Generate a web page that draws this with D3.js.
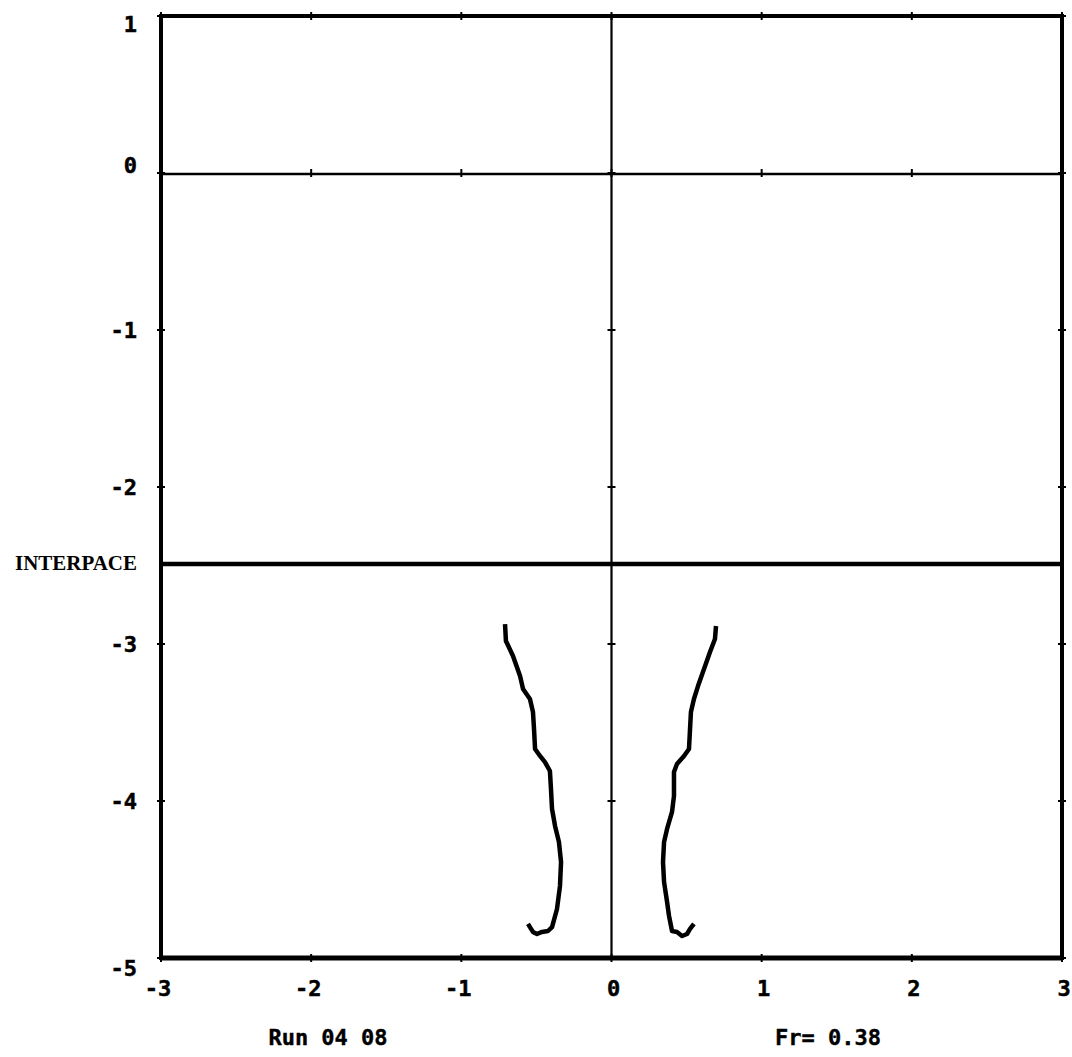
<!DOCTYPE html>
<html><head><meta charset="utf-8">
<script src="https://cdn.jsdelivr.net/npm/d3@7"></script>
<style>html,body{margin:0;padding:0;background:#fff;}</style>
</head><body>
<svg id="c" width="1072" height="1057"></svg>
<script>
const xTicks = [-3, -2, -1, 0, 1, 2, 3];
const yTicks = [1, 0, -1, -2, -3, -4, -5];
const interfaceY = -2.49;
const interfaceLabel = "INTERPACE";
const runLabel = "Run 04 08";
const frLabel = "Fr= 0.38";

const leftX = [-0.709,-0.703,-0.656,-0.609,-0.589,-0.543,-0.523,-0.516,-0.509,-0.476,-0.443,-0.410,-0.403,-0.396,-0.376,-0.350,-0.336,-0.343,-0.363,-0.396,-0.423,-0.463,-0.496,-0.523,-0.543,-0.556];
const leftY = [-2.873,-2.981,-3.076,-3.204,-3.287,-3.350,-3.433,-3.541,-3.669,-3.713,-3.752,-3.809,-3.924,-4.051,-4.159,-4.261,-4.389,-4.541,-4.688,-4.803,-4.828,-4.834,-4.847,-4.834,-4.803,-4.783];
const rightX = [0.696,0.689,0.656,0.616,0.576,0.549,0.529,0.523,0.516,0.483,0.436,0.416,0.416,0.403,0.370,0.350,0.343,0.350,0.370,0.383,0.403,0.436,0.470,0.503,0.523,0.549];
const rightY = [-2.885,-2.968,-3.051,-3.159,-3.268,-3.350,-3.433,-3.541,-3.669,-3.713,-3.764,-3.815,-3.968,-4.070,-4.178,-4.261,-4.389,-4.516,-4.643,-4.732,-4.828,-4.834,-4.860,-4.847,-4.815,-4.783];

const svg = d3.select("#c");
const L = 161, R = 1062, T = 16, B = 958;
const x = d3.scaleLinear().domain([-3, 3]).range([L, R]);
const y = d3.scaleLinear().domain([-5, 1]).range([B, T]);
const mono = "'DejaVu Sans Mono', monospace";

// zero lines
svg.append("line").attr("x1", x(-3)).attr("x2", x(3)).attr("y1", y(0) + 1).attr("y2", y(0) + 1)
  .attr("stroke", "#000").attr("stroke-width", 2.6);
svg.append("line").attr("x1", x(0)).attr("x2", x(0)).attr("y1", y(1)).attr("y2", y(-5))
  .attr("stroke", "#000").attr("stroke-width", 2.2);

// interface line
svg.append("line").attr("x1", x(-3)).attr("x2", x(3)).attr("y1", y(interfaceY)).attr("y2", y(interfaceY))
  .attr("stroke", "#000").attr("stroke-width", 4.5);

// frame
svg.append("line").attr("x1", L).attr("x2", R).attr("y1", T).attr("y2", T).attr("stroke", "#000").attr("stroke-width", 4);
svg.append("line").attr("x1", L).attr("x2", R).attr("y1", B).attr("y2", B).attr("stroke", "#000").attr("stroke-width", 5);
svg.append("line").attr("x1", L).attr("x2", L).attr("y1", T - 2).attr("y2", B + 2).attr("stroke", "#000").attr("stroke-width", 4);
svg.append("line").attr("x1", R).attr("x2", R).attr("y1", T - 2).attr("y2", B + 2).attr("stroke", "#000").attr("stroke-width", 4);

// tick crosses
const tk = 4;
xTicks.forEach(v => {
  [y(1), y(0), y(-5)].forEach(py => {
    svg.append("line").attr("x1", x(v)).attr("x2", x(v)).attr("y1", py - tk).attr("y2", py + tk)
      .attr("stroke", "#000").attr("stroke-width", 2);
  });
});
yTicks.forEach(v => {
  [x(-3), x(0), x(3)].forEach(px => {
    svg.append("line").attr("x1", px - tk).attr("x2", px + tk).attr("y1", y(v)).attr("y2", y(v))
      .attr("stroke", "#000").attr("stroke-width", 2);
  });
});

// axis labels
const fmt = v => (v < 0 ? "-" + Math.abs(v) : String(v));
yTicks.forEach(v => {
  let off = 2;
  if (v === 1) off = 10;
  if (v === 0) off = -6;
  if (v === -5) off = 12;
  svg.append("text").attr("x", 137).attr("y", y(v) + off)
    .attr("text-anchor", "end").attr("dominant-baseline", "middle")
    .attr("font-family", mono).attr("font-weight", "bold").attr("font-size", 22)
    .attr("stroke", "#000").attr("stroke-width", 0.5)
    .text(fmt(v));
});
xTicks.forEach(v => {
  svg.append("text").attr("x", x(v) + (v < 0 ? -3 : 2)).attr("y", 990)
    .attr("text-anchor", "middle").attr("dominant-baseline", "middle")
    .attr("font-family", mono).attr("font-weight", "bold").attr("font-size", 22)
    .attr("stroke", "#000").attr("stroke-width", 0.5)
    .text(fmt(v));
});

svg.append("text").attr("x", 15).attr("y", y(interfaceY) + 1)
  .attr("dominant-baseline", "middle")
  .attr("font-family", "'Liberation Serif', serif").attr("font-weight", "bold").attr("font-size", 20)
  .attr("textLength", 122).attr("lengthAdjust", "spacingAndGlyphs")
  .text(interfaceLabel);

svg.append("text").attr("x", 328).attr("y", 1039).attr("text-anchor", "middle").attr("dominant-baseline", "middle")
  .attr("font-family", mono).attr("font-weight", "bold").attr("font-size", 22)
  .attr("stroke", "#000").attr("stroke-width", 0.4).text(runLabel);
svg.append("text").attr("x", 775).attr("y", 1039).attr("dominant-baseline", "middle")
  .attr("font-family", mono).attr("font-weight", "bold").attr("font-size", 22)
  .attr("stroke", "#000").attr("stroke-width", 0.4).text(frLabel);

// curves
const line = d3.line().x(d => x(d[0])).y(d => y(d[1])).curve(d3.curveLinear);
const leftPts = leftX.map((v, i) => [v, leftY[i]]);
const rightPts = rightX.map((v, i) => [v, rightY[i]]);
[leftPts, rightPts].forEach(pts => {
  svg.append("path").attr("d", line(pts)).attr("fill", "none").attr("stroke", "#000")
    .attr("stroke-width", 4.5).attr("stroke-linejoin", "round").attr("stroke-linecap", "butt");
});
</script>
</body></html>
